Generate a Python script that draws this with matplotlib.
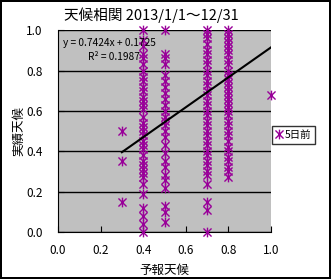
import matplotlib.pyplot as plt
from matplotlib.path import Path

plt.rcParams['font.family'] = ['Noto Sans CJK JP', 'DejaVu Sans']

# 予報天候ごとの実績天候
x_vals = [0.3, 0.4, 0.5, 0.7, 0.8, 1.0]
col03 = [0.5, 0.35, 0.15]
col04 = [1.0, 0.95, 0.92, 0.88, 0.86, 0.83, 0.8, 0.77, 0.75, 0.72, 0.7, 0.67, 0.65,
         0.63, 0.61, 0.57, 0.54, 0.52, 0.5, 0.48, 0.45, 0.43, 0.41, 0.38, 0.35, 0.33,
         0.31, 0.29, 0.27, 0.24, 0.19, 0.12, 0.08, 0.04, 0.0]
col05 = [1.0, 0.88, 0.86, 0.83, 0.78, 0.75, 0.72, 0.69, 0.66, 0.63, 0.6, 0.57, 0.55,
         0.53, 0.5, 0.47, 0.43, 0.39, 0.35, 0.32, 0.28, 0.26, 0.22, 0.13, 0.1, 0.05]
col07 = [1.0, 0.98, 0.96, 0.93, 0.9, 0.88, 0.85, 0.83, 0.8, 0.78, 0.75, 0.73, 0.7,
         0.68, 0.65, 0.63, 0.6, 0.58, 0.55, 0.53, 0.5, 0.48, 0.45, 0.43, 0.4, 0.38,
         0.35, 0.33, 0.3, 0.28, 0.24, 0.15, 0.11, 0.0]
col08 = [1.0, 0.98, 0.96, 0.94, 0.92, 0.9, 0.88, 0.85, 0.83, 0.8, 0.78, 0.76, 0.74,
         0.72, 0.7, 0.68, 0.66, 0.64, 0.62, 0.6, 0.58, 0.55, 0.53, 0.5, 0.48, 0.45,
         0.42, 0.4, 0.37, 0.35, 0.32, 0.3, 0.27]
col10 = [0.68]
columns = [col03, col04, col05, col07, col08, col10]

# 近似直線
slope = 0.7424
intercept = 0.1725
r2 = 0.1987

xs = []
ys = []
for xv, col in zip(x_vals, columns):
    xs += [xv] * len(col)
    ys += col

# Excelの「*」マーカー（×＋縦線）
star = Path([(-1, -1), (1, 1), (-1, 1), (1, -1), (0, -1.2), (0, 1.2)],
            [Path.MOVETO, Path.LINETO, Path.MOVETO, Path.LINETO, Path.MOVETO, Path.LINETO])

fig = plt.figure(figsize=(3.31, 2.79), dpi=100, edgecolor='black', linewidth=1.5)
ax = fig.add_axes([0.175, 0.1685, 0.644, 0.7235])
ax.set_facecolor('#C0C0C0')

ax.plot(xs, ys, linestyle='none', marker=star, markersize=7, markeredgewidth=1,
        color='#990099', label='5日前', zorder=3, clip_on=False)

tx = [min(x_vals), max(x_vals)]
ax.plot(tx, [slope * t + intercept for t in tx], color='black', lw=1.5, zorder=4)

ax.text(0.023, 0.936, 'y = %.4fx + %.4f' % (slope, intercept), fontsize=7.3,
        va='center', zorder=5)
ax.text(0.14, 0.866, 'R² = %.4f' % r2, fontsize=7.3, va='center', zorder=5)

ax.set_xlim(0, 1)
ax.set_ylim(0, 1)
ax.set_xticks([0.0, 0.2, 0.4, 0.6, 0.8, 1.0])
ax.set_yticks([0.0, 0.2, 0.4, 0.6, 0.8, 1.0])
ax.set_xticklabels(['0.0', '0.2', '0.4', '0.6', '0.8', '1.0'])
ax.set_yticklabels(['0.0', '0.2', '0.4', '0.6', '0.8', '1.0'])
ax.tick_params(axis='x', direction='in', length=4, pad=9, labelsize=8.5)
ax.tick_params(axis='y', direction='in', length=4, pad=11, labelsize=8.5)
ax.grid(axis='y', color='black', lw=1)
ax.spines['top'].set_visible(False)
ax.spines['right'].set_visible(False)

ax.set_xlabel('予報天候', fontsize=9, labelpad=5)
ax.set_ylabel('実績天候', fontsize=9, labelpad=1)
fig.text(0.458, 0.945, '天候相関 2013/1/1～12/31', fontsize=10.5, ha='center', va='center')

leg = ax.legend(loc='center left', bbox_to_anchor=(1.005, 0.48), fontsize=7.5,
                frameon=True, fancybox=False, edgecolor='black', handlelength=0.6,
                handletextpad=0.3, borderpad=0.35, borderaxespad=0.0)
leg.get_frame().set_linewidth(1)

fig.savefig('out.png', dpi=100, edgecolor='black')
